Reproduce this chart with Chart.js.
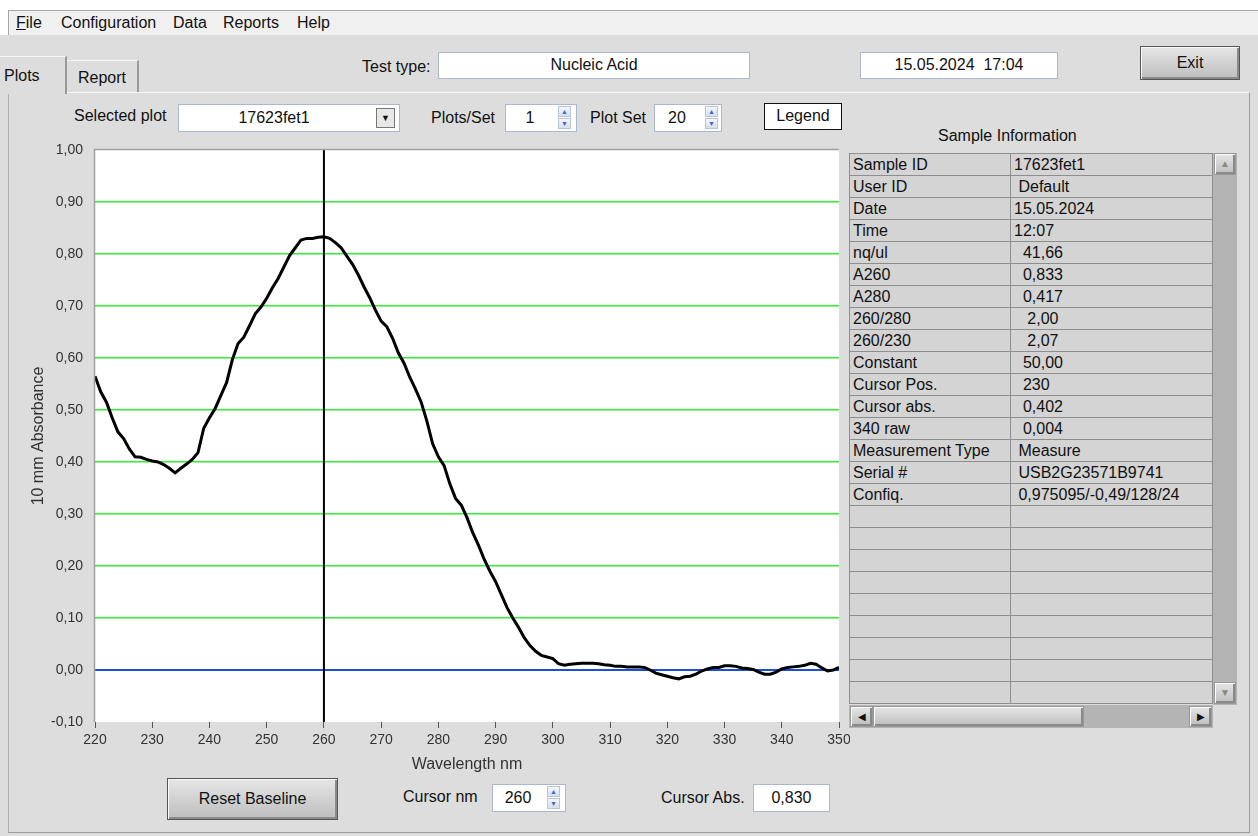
<!DOCTYPE html>
<html>
<head>
<meta charset="utf-8">
<script src="https://cdn.jsdelivr.net/npm/chart.js@4.4.1/dist/chart.umd.min.js"></script>
<style>
  body { margin: 0; width: 1258px; height: 836px; background: #fff; font-family: "Liberation Sans", Arial, sans-serif; font-size: 16px; color: #111; position: relative; overflow: hidden; }
  .abs { position: absolute; }
  #app { left: 0; top: 35px; width: 1258px; height: 801px; background: #dddddd; }
  #menu { left: 8px; top: 10px; width: 1250px; height: 25px; background: #f0f0f0; border-top: 1px solid #a8a8a8; border-left: 1px solid #a8a8a8; box-sizing: border-box; }
  #menu span { position: absolute; top: 3px; font-size: 16px; }
  .panel { left: 8px; top: 92px; width: 1242px; height: 741px; border-top: 1px solid #f6f6f6; border-left: 1px solid #b0b0b0; border-right: 1px solid #9a9a9a; border-bottom: 1px solid #9a9a9a; box-sizing: border-box; }
  .tab { background: #dddddd; border-top: 1px solid #f6f6f6; border-left: 1px solid #f6f6f6; border-right: 2px solid #9a9a9a; box-sizing: border-box; font-size: 16px; }
  .box { background: #fff; border: 1px solid #a9b8d0; box-sizing: border-box; text-align: center; font-size: 16px; }
  .lbl { font-size: 16px; white-space: nowrap; line-height: 18px; }
  .btn { border: 1px solid #555; background: linear-gradient(#e6e6e6, #bdbdbd); box-shadow: inset 1px 1px 0 #fafafa, inset -2px -2px 0 #8a8a8a; box-sizing: border-box; text-align: center; font-size: 16px; }
  .spin { width: 15px; height: 26px; }
  .spin div { width: 13px; height: 11px; margin: 1px; border: 1px solid #b8c4d8; background: linear-gradient(#f4f6fa, #d8dfea); box-sizing: border-box; font-size: 7px; line-height: 9px; text-align: center; color: #3a6ad0; }
  #tbl { left: 849px; top: 153px; width: 364px; border-collapse: collapse; font-size: 16px; background: #d4d4d4; }
  #tbl td { border: 1px solid #8e8e8e; height: 22px; padding: 0 0 0 3px; box-sizing: border-box; white-space: pre; overflow: hidden; line-height: 20px; }
  #tbl td:first-child { width: 161px; }
  #chartBox { left: 0; top: 140px; width: 850px; height: 640px; }
</style>
</head>
<body>
<div id="app" class="abs"></div>
<div id="menu" class="abs">
  <span style="left:7px"><u>F</u>ile</span>
  <span style="left:52px">Configuration</span>
  <span style="left:164px">Data</span>
  <span style="left:214px">Reports</span>
  <span style="left:288px">Help</span>
</div>
<div class="abs panel"></div>
<div class="abs tab" style="left:66px;top:60px;width:73px;height:32px;padding:8px 0 0 11px">Report</div>
<div class="abs tab" style="left:0;top:56px;width:67px;height:38px;border-left:none;padding:10px 0 0 4px;border-bottom:none">Plots</div>

<div class="abs lbl" style="left:362px;top:58px">Test type:</div>
<div class="abs box" style="left:438px;top:52px;width:312px;height:27px;line-height:24px">Nucleic Acid</div>
<div class="abs box" style="left:860px;top:52px;width:198px;height:27px;line-height:24px">15.05.2024&nbsp; 17:04</div>
<div class="abs btn" style="left:1140px;top:46px;width:100px;height:34px;line-height:31px">Exit</div>

<div class="abs lbl" style="left:74px;top:107px">Selected plot</div>
<div class="abs box" style="left:178px;top:104px;width:222px;height:28px;line-height:25px;padding-right:30px">17623fet1</div>
<div class="abs" style="left:376px;top:108px;width:19px;height:20px;border:1px solid #777;background:#e8e8e8;box-sizing:border-box;font-size:9px;text-align:center;line-height:18px">&#9660;</div>
<div class="abs lbl" style="left:431px;top:109px">Plots/Set</div>
<div class="abs box" style="left:505px;top:104px;width:72px;height:28px;line-height:25px;padding-right:22px">1</div>
<div class="abs spin" style="left:557px;top:105px"><div>&#9650;</div><div>&#9660;</div></div>
<div class="abs lbl" style="left:590px;top:109px">Plot Set</div>
<div class="abs box" style="left:654px;top:104px;width:68px;height:28px;line-height:25px;padding-right:22px">20</div>
<div class="abs spin" style="left:704px;top:105px"><div>&#9650;</div><div>&#9660;</div></div>
<div class="abs box" style="left:764px;top:103px;width:78px;height:27px;line-height:24px;border:1px solid #111">Legend</div>

<div class="abs lbl" style="left:938px;top:127px">Sample Information</div>
<table id="tbl" class="abs"></table>
<div class="abs" style="left:1213px;top:153px;width:24px;height:552px;background:#b4b4b4"></div>
<div class="abs btn" style="left:1214px;top:153px;width:22px;height:22px;border-color:#999;font-size:10px;line-height:20px;color:#888">&#9650;</div>
<div class="abs btn" style="left:1214px;top:682px;width:22px;height:22px;border-color:#999;font-size:10px;line-height:20px;color:#888">&#9660;</div>
<div class="abs" style="left:849px;top:705px;width:364px;height:23px;background:#b4b4b4"></div>
<div class="abs btn" style="left:850px;top:706px;width:23px;height:21px;font-size:10px;line-height:19px;border-color:#999">&#9664;</div>
<div class="abs btn" style="left:873px;top:706px;width:211px;height:21px;border-color:#999"></div>
<div class="abs btn" style="left:1189px;top:706px;width:23px;height:21px;font-size:10px;line-height:19px;border-color:#999">&#9654;</div>

<div class="abs btn" style="left:167px;top:778px;width:171px;height:42px;line-height:39px">Reset Baseline</div>
<div class="abs lbl" style="left:403px;top:788px">Cursor nm</div>
<div class="abs box" style="left:492px;top:784px;width:74px;height:28px;line-height:25px;padding-right:22px">260</div>
<div class="abs spin" style="left:546px;top:785px"><div>&#9650;</div><div>&#9660;</div></div>
<div class="abs lbl" style="left:661px;top:789px">Cursor Abs.</div>
<div class="abs box" style="left:753px;top:784px;width:77px;height:28px;line-height:25px">0,830</div>

<div id="chartBox" class="abs"><canvas id="plot"></canvas></div>

<script>
// wavelength (nm) of each reading
const wavelengths = [
  220, 221, 222, 223, 224, 225, 226, 227, 228, 229,
  230, 231, 232, 233, 234, 235, 236, 237, 238, 239,
  240, 241, 242, 243, 244, 245, 246, 247, 248, 249,
  250, 251, 252, 253, 254, 255, 256, 257, 258, 259,
  260, 261, 262, 263, 264, 265, 266, 267, 268, 269,
  270, 271, 272, 273, 274, 275, 276, 277, 278, 279,
  280, 281, 282, 283, 284, 285, 286, 287, 288, 289,
  290, 291, 292, 293, 294, 295, 296, 297, 298, 299,
  300, 301, 302, 303, 304, 305, 306, 307, 308, 309,
  310, 311, 312, 313, 314, 315, 316, 317, 318, 319,
  320, 321, 322, 323, 324, 325, 326, 327, 328, 329,
  330, 331, 332, 333, 334, 335, 336, 337, 338, 339,
  340, 341, 342, 343, 344, 345, 346, 347, 348, 349,
  350
];
// 10 mm absorbance
const absorbance = [
  0.565, 0.535, 0.515, 0.485, 0.458, 0.445, 0.425, 0.410, 0.409, 0.405,
  0.402, 0.400, 0.395, 0.388, 0.379, 0.388, 0.396, 0.405, 0.418, 0.465,
  0.485, 0.503, 0.528, 0.553, 0.597, 0.628, 0.640, 0.662, 0.685, 0.698,
  0.715, 0.735, 0.753, 0.775, 0.797, 0.812, 0.827, 0.830, 0.830, 0.832,
  0.833, 0.830, 0.822, 0.812, 0.796, 0.780, 0.760, 0.737, 0.716, 0.692,
  0.671, 0.660, 0.638, 0.610, 0.590, 0.563, 0.540, 0.515, 0.478, 0.435,
  0.410, 0.393, 0.358, 0.330, 0.317, 0.293, 0.264, 0.240, 0.213, 0.190,
  0.170, 0.145, 0.120, 0.100, 0.082, 0.062, 0.047, 0.036, 0.028, 0.025,
  0.022, 0.012, 0.009, 0.011, 0.012, 0.013, 0.013, 0.013, 0.012, 0.010,
  0.009, 0.007, 0.007, 0.006, 0.006, 0.006, 0.005, 0.000, -0.006, -0.009,
  -0.012, -0.015, -0.017, -0.013, -0.012, -0.008, -0.002, 0.002, 0.005, 0.005,
  0.008, 0.008, 0.007, 0.004, 0.003, 0.001, -0.004, -0.008, -0.008, -0.004,
  0.002, 0.005, 0.006, 0.007, 0.009, 0.013, 0.011, 0.004, -0.002, 0.000,
  0.005
];
const cursorNm = 260;
const xTicks = [220, 230, 240, 250, 260, 270, 280, 290, 300, 310, 320, 330, 340, 350];
const yTicks = [-0.10, 0.00, 0.10, 0.20, 0.30, 0.40, 0.50, 0.60, 0.70, 0.80, 0.90, 1.00];

const infoLabels = ["Sample ID", "User ID", "Date", "Time", "nq/ul", "A260", "A280", "260/280", "260/230",
  "Constant", "Cursor Pos.", "Cursor abs.", "340 raw", "Measurement Type", "Serial #", "Confiq."];
const infoValues = ["17623fet1", " Default", "15.05.2024", "12:07", "  41,66", "  0,833", "  0,417", "   2,00", "   2,07",
  "  50,00", "  230", "  0,402", "  0,004", " Measure", " USB2G23571B9741", " 0,975095/-0,49/128/24"];
const emptyRows = 9;

const tbl = document.getElementById("tbl");
for (let i = 0; i < infoLabels.length + emptyRows; i++) {
  const tr = tbl.insertRow();
  tr.insertCell().textContent = infoLabels[i] || "";
  tr.insertCell().textContent = infoValues[i] || "";
}

const fmt = v => v.toFixed(2).replace(".", ",");
const yMin = yTicks[0], yMax = yTicks[yTicks.length - 1];

const plotFrame = {
  id: "plotFrame",
  beforeDraw(chart) {
    const a = chart.chartArea, c = chart.ctx;
    c.save();
    c.fillStyle = "#fff";
    c.fillRect(a.left, a.top, a.right - a.left, a.bottom - a.top);
    c.restore();
  },
  afterDraw(chart) {
    const a = chart.chartArea, c = chart.ctx;
    c.save();
    c.strokeStyle = "#a0a0a0";
    c.lineWidth = 1.5;
    c.beginPath();
    c.moveTo(a.left - 0.5, a.bottom);
    c.lineTo(a.left - 0.5, a.top - 0.5);
    c.lineTo(a.right, a.top - 0.5);
    c.stroke();
    c.restore();
  }
};

new Chart(document.getElementById("plot").getContext("2d"), {
  type: "line",
  data: {
    datasets: [{
      label: "17623fet1",
      data: wavelengths.map((w, i) => ({ x: w, y: absorbance[i] })),
      borderColor: "#000",
      borderWidth: 3,
      pointRadius: 0,
      tension: 0,
      order: 1
    }, {
      label: "Cursor",
      data: [{ x: cursorNm, y: yMin }, { x: cursorNm, y: yMax }],
      borderColor: "#000",
      borderWidth: 2,
      pointRadius: 0,
      order: 2
    }]
  },
  options: {
    responsive: true,
    maintainAspectRatio: false,
    animation: false,
    layout: { padding: { top: 10, right: 11, bottom: 6, left: 0 } },
    plugins: { legend: { display: false }, tooltip: { enabled: false } },
    scales: {
      x: {
        type: "linear",
        min: xTicks[0],
        max: xTicks[xTicks.length - 1],
        afterBuildTicks: s => { s.ticks = xTicks.map(v => ({ value: v })); },
        afterFit: s => { s.height = 52; s.paddingLeft = 0; s.paddingRight = 0; },
        grid: { drawOnChartArea: false, drawTicks: true, tickLength: 6, color: "#555", lineWidth: 1 },
        border: { display: false },
        ticks: { color: "#333", font: { family: "Liberation Sans", size: 14 }, padding: 4, maxRotation: 0 },
        title: { display: true, text: "Wavelength nm", color: "#333", font: { family: "Liberation Sans", size: 16 }, padding: { top: 0, bottom: 0 } }
      },
      y: {
        min: yMin,
        max: yMax,
        afterBuildTicks: s => { s.ticks = yTicks.map(v => ({ value: v })); },
        afterFit: s => { s.width = 95; s.paddingTop = 0; s.paddingBottom = 0; },
        grid: {
          drawTicks: false,
          color: ctx => {
            const v = ctx.tick ? ctx.tick.value : 0;
            if (Math.abs(v) < 1e-9) return "#1d4fd6";
            if (v <= yMin + 1e-9 || v >= yMax - 1e-9) return "rgba(0,0,0,0)";
            return "#33ee33";
          },
          lineWidth: ctx => (ctx.tick && Math.abs(ctx.tick.value) < 1e-9 ? 2 : 1.5)
        },
        border: { display: false },
        ticks: { color: "#333", font: { family: "Liberation Sans", size: 14 }, padding: 12, callback: v => fmt(v) },
        title: { display: true, text: "10 mm Absorbance", color: "#333", font: { family: "Liberation Sans", size: 16 }, padding: { top: 29, bottom: 0 } }
      }
    }
  },
  plugins: [plotFrame]
});
</script>
</body>
</html>
